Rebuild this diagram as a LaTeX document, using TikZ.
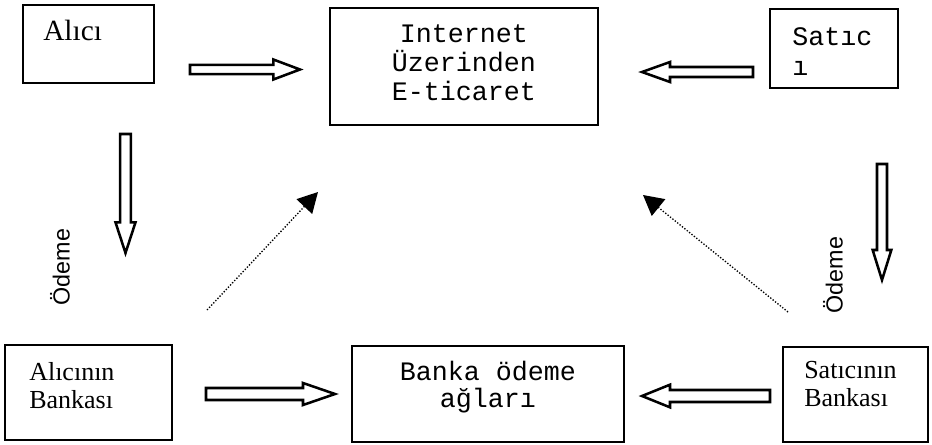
\documentclass[tikz,border=0pt]{standalone}
\usepackage{fontspec}
\setmainfont{Liberation Serif}
\newfontfamily\monof{Liberation Mono}
\newfontfamily\sansf{Liberation Sans}
\usetikzlibrary{calc,arrows.meta}
\tikzset{
  box/.style={draw, line width=1.7pt, inner sep=0pt},
  serif/.style={font=\fontsize{19.5}{20.5}\selectfont, inner sep=0pt, align=left, anchor=base west},
  mono/.style={font=\monof\fontsize{20}{21.75}\selectfont, inner sep=0pt, align=center, anchor=base},
  blk/.style={draw, line width=1.9pt, line join=miter, fill=white},
  dots/.style={line width=1pt, dash pattern=on 1pt off 1.3pt, -{Triangle[length=15pt,width=16pt]}},
  odeme/.style={font=\sansf\fontsize{17.5}{19}\selectfont, rotate=90, inner sep=0pt}
}
\newcommand\blockarrow[5]{%
  \coordinate (#1h) at ($(#2)!#5!(#1)$);
  \draw[blk] ($(#1)!#3!90:(#2)$) -- ($(#1h)!#3!90:(#2)$) -- ($(#1h)!#4!90:(#2)$) -- (#2)
    -- ($(#1h)!#4!-90:(#2)$) -- ($(#1h)!#3!-90:(#2)$) -- ($(#1)!#3!-90:(#2)$) -- cycle;}
\begin{document}
\begin{tikzpicture}[x=0.75pt,y=-0.75pt]
\useasboundingbox (0,0) rectangle (932,444);
% boxes
\node[box, minimum width=98.25pt, minimum height=58.5pt] (alici) at (88.5,44) {};
\node[box, minimum width=201pt, minimum height=87.75pt] (inet) at (464,66.5) {};
\node[box, minimum width=96pt, minimum height=59.25pt] (satici) at (834,48.5) {};
\node[box, minimum width=125.25pt, minimum height=71.25pt] (abank) at (88.5,392.5) {};
\node[box, minimum width=204pt, minimum height=72pt] (banka) at (488,394) {};
\node[box, minimum width=108.75pt, minimum height=71.25pt] (sbank) at (855.5,394.5) {};
% texts (anchor base = last line's baseline)
\node[serif, font=\fontsize{22}{23}\selectfont] (alicitxt) at (43,40) {Alıcı};
\node[mono] (inettxt) at (464,100) {Internet\\Üzerinden\\E-ticaret};
\node[mono, align=left, anchor=base west, font=\monof\fontsize{20}{22.5}\selectfont] (satictxt) at (792,75) {Satıc\\ı};
\node[serif] (abanktxt) at (29,408) {Alıcının\\Bankası};
\node[mono, font=\monof\fontsize{20}{20}\selectfont] (bankatxt) at (488,407) {Banka ödeme\\ağları};
\node[serif] (sbanktxt) at (804,406) {Satıcının\\Bankası};
\node[odeme] (odeme1) at (60,267) {Ödeme};
\node[odeme] (odeme2) at (833,275) {Ödeme};
% block arrow coordinates
\coordinate (a1s) at (190,69.5);  \coordinate (a1e) at (300,69.5);
\coordinate (a2s) at (753,72);    \coordinate (a2e) at (642,72);
\coordinate (a3s) at (125.5,134); \coordinate (a3e) at (125.5,253);
\coordinate (a4s) at (882,164);   \coordinate (a4e) at (882,280);
\coordinate (a5s) at (206,394);   \coordinate (a5e) at (335,394);
\coordinate (a6s) at (770,396);   \coordinate (a6e) at (642,396);
\blockarrow{a1s}{a1e}{3.4pt}{7.5pt}{20pt}
\blockarrow{a2s}{a2e}{3.75pt}{7.5pt}{21pt}
\blockarrow{a3s}{a3e}{4pt}{7.5pt}{23pt}
\blockarrow{a4s}{a4e}{3.75pt}{7pt}{22.5pt}
\blockarrow{a5s}{a5e}{4.5pt}{8.25pt}{24pt}
\blockarrow{a6s}{a6e}{4.5pt}{8.5pt}{21pt}
% dotted arrows
\coordinate (d1s) at (207,310); \coordinate (d1e) at (318,192);
\coordinate (d2s) at (788,312); \coordinate (d2e) at (643,195);
\draw[dots] (d1s) -- (d1e);
\draw[dots] (d2s) -- (d2e);
\end{tikzpicture}
\end{document}
